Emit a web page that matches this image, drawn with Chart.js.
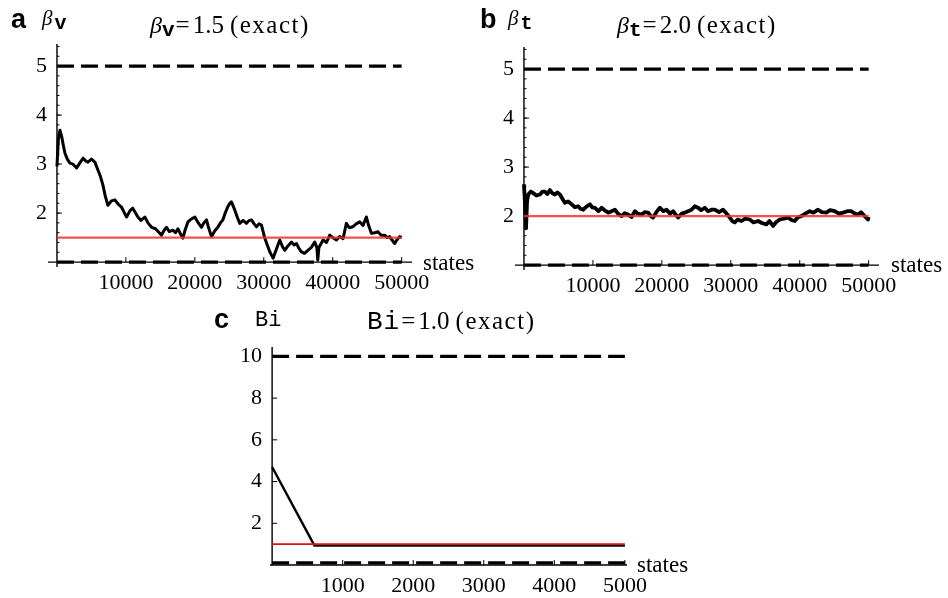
<!DOCTYPE html>
<html><head><meta charset="utf-8">
<script src="https://cdn.jsdelivr.net/npm/chart.js@4.4.0/dist/chart.umd.min.js"></script>
<style>
body{margin:0;background:#fff;}
#wrap{position:relative;width:948px;height:598px;overflow:hidden;background:#fff;}
canvas{position:absolute;}
.t{position:absolute;white-space:nowrap;color:#000;line-height:1;font-family:'Liberation Serif','Times New Roman',serif;}
.lt{font:bold 27px 'Liberation Sans',Arial,sans-serif;}
.beta{font-style:italic;}
.mono{font-family:'Liberation Mono','Courier New',monospace;}
.sub{font-family:'Liberation Mono','Courier New',monospace;font-weight:bold;position:relative;}
.ex{letter-spacing:1.5px;margin-left:6px;}
.eq{margin:0 3px 0 1px;}
</style></head><body>
<div id="wrap">
<canvas id="cA" width="474" height="300" style="left:0;top:0"></canvas>
<canvas id="cB" width="474" height="300" style="left:474px;top:0"></canvas>
<canvas id="cC" width="460" height="308" style="left:220px;top:290px"></canvas>

<div class="t lt" style="left:11px;top:4px">a</div>
<div class="t" style="left:42px;top:8px;font-size:21px"><span class="beta">β</span><span class="sub" style="font-size:20px;top:4px;margin-left:2px">v</span></div>
<div class="t" style="left:150px;top:12px;font-size:25px"><span class="beta" style="font-size:24px">β</span><span class="sub" style="font-size:21px;top:3px">v</span><span class="eq">=</span>1.5<span class="ex">(exact)</span></div>
<div class="t" style="left:423px;top:251px;font-size:23px">states</div>

<div class="t lt" style="left:480px;top:4px">b</div>
<div class="t" style="left:508px;top:8px;font-size:21px"><span class="beta">β</span><span class="sub" style="font-size:20px;top:4px;margin-left:2px">t</span></div>
<div class="t" style="left:617px;top:12px;font-size:25px"><span class="beta" style="font-size:24px">β</span><span class="sub" style="font-size:21px;top:3px">t</span><span class="eq">=</span>2.0<span class="ex">(exact)</span></div>
<div class="t" style="left:891px;top:253px;font-size:23px">states</div>

<div class="t lt" style="left:214px;top:304px">c</div>
<div class="t mono" style="left:255px;top:310px;font-size:22px">Bi</div>
<div class="t" style="left:367px;top:308px;font-size:25px"><span class="mono" style="font-size:26px;letter-spacing:1px">Bi</span><span class="eq">=</span>1.0<span class="ex">(exact)</span></div>
<div class="t" style="left:637px;top:553px;font-size:23px">states</div>
</div>

<script>
// ---------- Panel a : beta_v ----------
const aStates = [0,200,430,700,900,1160,1500,1880,2300,2850,3300,3800,4200,4500,5000,5500,5940,6300,6670,7000,7390,7900,8400,8900,9370,9800,10100,10600,11000,11400,11740,12200,12750,13200,13720,14300,14700,15170,15500,15900,16300,16800,17200,17540,17900,18260,18600,19000,19500,20000,20500,20970,21300,21690,22000,22420,22900,23330,23700,24060,24400,24780,25070,25310,25800,26200,26520,27000,27490,27800,28220,28600,28940,29300,29660,30140,30500,30870,31350,31800,32320,32700,33040,33500,34010,34400,34740,35100,35460,35900,36400,36900,37390,37700,37830,38000,38600,39100,39570,40000,40530,41000,41500,41980,42400,42900,43400,43910,44400,44880,45200,45610,46100,46570,47000,47540,47900,48260,48600,48990,49300,49710,50000];
const aBetaV = [2.95,3.5,3.69,3.55,3.4,3.22,3.1,3.02,3.0,2.92,3.02,3.12,3.06,3.04,3.1,3.04,2.88,2.75,2.57,2.35,2.16,2.25,2.27,2.18,2.12,2.0,1.92,2.05,2.1,2.0,1.92,1.85,1.92,1.8,1.71,1.68,1.62,1.55,1.64,1.71,1.62,1.65,1.6,1.68,1.58,1.49,1.66,1.82,1.88,1.92,1.8,1.71,1.8,1.86,1.7,1.52,1.64,1.71,1.8,1.86,2.0,2.13,2.2,2.23,2.06,1.9,1.79,1.85,1.79,1.84,1.86,1.78,1.72,1.78,1.76,1.49,1.35,1.21,1.08,1.25,1.45,1.32,1.24,1.33,1.41,1.35,1.38,1.28,1.21,1.18,1.24,1.3,1.41,1.3,1.04,1.3,1.45,1.4,1.55,1.5,1.45,1.52,1.48,1.79,1.7,1.72,1.78,1.82,1.75,1.92,1.75,1.59,1.6,1.62,1.55,1.55,1.5,1.52,1.45,1.38,1.45,1.52,1.5];
const aExact = 1.5;
const aUpper = 5, aLower = 1;
const aXTicks = [10000,20000,30000,40000,50000];
const aYTicks = [2,3,4,5];

// ---------- Panel b : beta_t ----------
const bStates = [0,150,300,450,620,1000,1350,1800,2320,2700,3040,3400,3770,4100,4490,4850,5220,5600,5940,6400,6910,7400,7870,8200,8600,9100,9570,9900,10290,10800,11260,11700,12220,12700,13190,13700,14160,14600,15120,15600,16090,16500,17060,17500,18020,18400,18740,19200,19710,20200,20680,21200,21640,22000,22370,22900,23330,23800,24300,24780,25260,25700,26230,26700,27200,27680,28300,28890,29400,29860,30200,30580,31000,31550,32100,32750,33300,33960,34500,35170,35600,36140,36600,37100,37700,38310,38800,39280,39700,40250,40800,41450,42000,42660,43200,43860,44400,45070,45700,46280,46900,47490,48000,48450,48900,49420,49900,50000];
const bBetaT = [2.65,2.25,1.75,2.3,2.44,2.5,2.47,2.42,2.44,2.5,2.5,2.45,2.53,2.47,2.44,2.48,2.44,2.35,2.27,2.3,2.24,2.18,2.2,2.15,2.13,2.2,2.24,2.18,2.17,2.1,2.17,2.12,2.07,2.1,2.13,2.04,2.0,2.06,2.03,1.98,2.1,2.05,2.03,2.08,2.07,2.0,1.97,2.08,2.17,2.1,2.13,2.05,2.1,2.03,1.97,2.05,2.07,2.1,2.13,2.2,2.17,2.12,2.17,2.1,2.13,2.13,2.08,2.13,2.05,1.97,1.9,1.87,1.93,1.9,1.95,1.93,1.87,1.9,1.86,1.83,1.9,1.8,1.88,1.93,1.95,1.97,1.92,1.9,1.97,2.0,2.05,2.1,2.07,2.13,2.08,2.07,2.12,2.1,2.05,2.07,2.1,2.1,2.05,2.03,2.08,2.0,1.93,1.98];
const bExact = 2.0;
const bUpper = 5, bLower = 1;
const bXTicks = [10000,20000,30000,40000,50000];
const bYTicks = [2,3,4,5];

// ---------- Panel c : Bi ----------
const cStates = [0,600,5000];
const cBi = [4.7,0.93,0.93];
const cExact = 1.0;
const cUpper = 10, cLower = 0.1;
const cXTicks = [1000,2000,3000,4000,5000];
const cYTicks = [2,4,6,8,10];

const serif = "'Liberation Serif','Times New Roman',serif";

const mmaAxes = {
  id: 'mmaAxes',
  beforeDatasetsDraw(chart, args, o) {
    const {ctx, chartArea: a, scales: {x, y}} = chart;
    const x0 = x.getPixelForValue(o.xCross), y0 = y.getPixelForValue(o.yCross);
    ctx.save();
    ctx.strokeStyle = '#000';
    ctx.lineWidth = 1.4;
    ctx.beginPath();
    ctx.moveTo(a.left, y0); ctx.lineTo(a.right, y0);
    ctx.moveTo(x0, a.top); ctx.lineTo(x0, a.bottom);
    ctx.stroke();
    ctx.lineWidth = 1;
    ctx.beginPath();
    o.yTicks.forEach(v => { const p = y.getPixelForValue(v); ctx.moveTo(x0, p); ctx.lineTo(x0 + 5, p); });
    if (o.yMinor) {
      for (let v = o.yCross; v <= y.max; v += o.yMinor) {
        const p = y.getPixelForValue(v); ctx.moveTo(x0, p); ctx.lineTo(x0 + 2.5, p);
      }
    }
    o.xTicks.forEach(v => { const p = x.getPixelForValue(v); ctx.moveTo(p, y0); ctx.lineTo(p, y0 - 5); });
    ctx.stroke();
    ctx.restore();
  }
};

function makeChart(id, p) {
  const pts = (xs, ys) => xs.map((v, i) => ({x: v, y: ys[i]}));
  const flat = (x1, v) => [{x: 0, y: v}, {x: x1, y: v}];
  return new Chart(document.getElementById(id), {
    type: 'line',
    data: {datasets: [
      {data: flat(p.xEnd, p.exact), borderColor: p.red, borderWidth: p.redW},
      {data: pts(p.xs, p.ys), borderColor: '#000', borderWidth: p.traceW},
      {data: flat(p.xEnd, p.upper), borderColor: '#000', borderWidth: 3.2, borderDash: [17, 7]},
      {data: flat(p.xEnd, p.lower), borderColor: '#000', borderWidth: 3.2, borderDash: [17, 7]}
    ]},
    options: {
      responsive: false, animation: false, devicePixelRatio: 1,
      layout: {padding: {top: p.padTop, right: p.padRight, left: 0, bottom: 0}},
      elements: {point: {radius: 0}, line: {tension: 0, fill: false, borderJoinStyle: 'round'}},
      plugins: {legend: {display: false}, tooltip: {enabled: false},
        mmaAxes: {xCross: 0, yCross: p.yCross, xTicks: p.xTicks, yTicks: p.yTicks, yMinor: p.yMinor}},
      scales: {
        x: {type: 'linear', min: p.xMin, max: p.xMax,
          grid: {display: false, drawTicks: false}, border: {display: false},
          afterBuildTicks: s => { s.ticks = p.xTicks.map(v => ({value: v})); },
          afterFit: s => { s.height = p.xAxisH; },
          ticks: {font: {family: serif, size: 22}, color: '#000', padding: p.xPad, maxRotation: 0, autoSkip: false, callback: v => String(v)}},
        y: {type: 'linear', min: p.yMin, max: p.yMax,
          grid: {display: false, drawTicks: false}, border: {display: false},
          afterBuildTicks: s => { s.ticks = p.yTicks.map(v => ({value: v})); },
          afterFit: s => { s.width = p.yAxisW; },
          ticks: {font: {family: serif, size: 22}, color: '#000', padding: p.yPad, autoSkip: false, callback: v => String(v)}}
      }
    },
    plugins: [mmaAxes]
  });
}

makeChart('cA', {xs: aStates, ys: aBetaV, exact: aExact, upper: aUpper, lower: aLower, xEnd: 50000,
  xTicks: aXTicks, yTicks: aYTicks, yCross: 1, yMinor: 0.2,
  xMin: -1300, xMax: 51500, yMin: 0.9, yMax: 5.45,
  padTop: 44, padRight: 62, yAxisW: 48, xAxisH: 33, xPad: 3, yPad: 1,
  red: 'rgba(240,50,50,0.85)', redW: 2.4, traceW: 3});

makeChart('cB', {xs: bStates, ys: bBetaT, exact: bExact, upper: bUpper, lower: bLower, xEnd: 50000,
  xTicks: bXTicks, yTicks: bYTicks, yCross: 1, yMinor: 0.2,
  xMin: -1300, xMax: 51500, yMin: 0.9, yMax: 5.45,
  padTop: 47, padRight: 69, yAxisW: 41, xAxisH: 30, xPad: 3, yPad: 1,
  red: 'rgba(240,50,50,0.85)', redW: 2.4, traceW: 3.8});

makeChart('cC', {xs: cStates, ys: cBi, exact: cExact, upper: cUpper, lower: cLower, xEnd: 5000,
  xTicks: cXTicks, yTicks: cYTicks, yCross: 0, yMinor: 0,
  xMin: -30, xMax: 5030, yMin: 0, yMax: 10.45,
  padTop: 57, padRight: 53, yAxisW: 50, xAxisH: 33, xPad: 8, yPad: 8,
  red: '#e01010', redW: 1.6, traceW: 2.4});
</script>
</body></html>
